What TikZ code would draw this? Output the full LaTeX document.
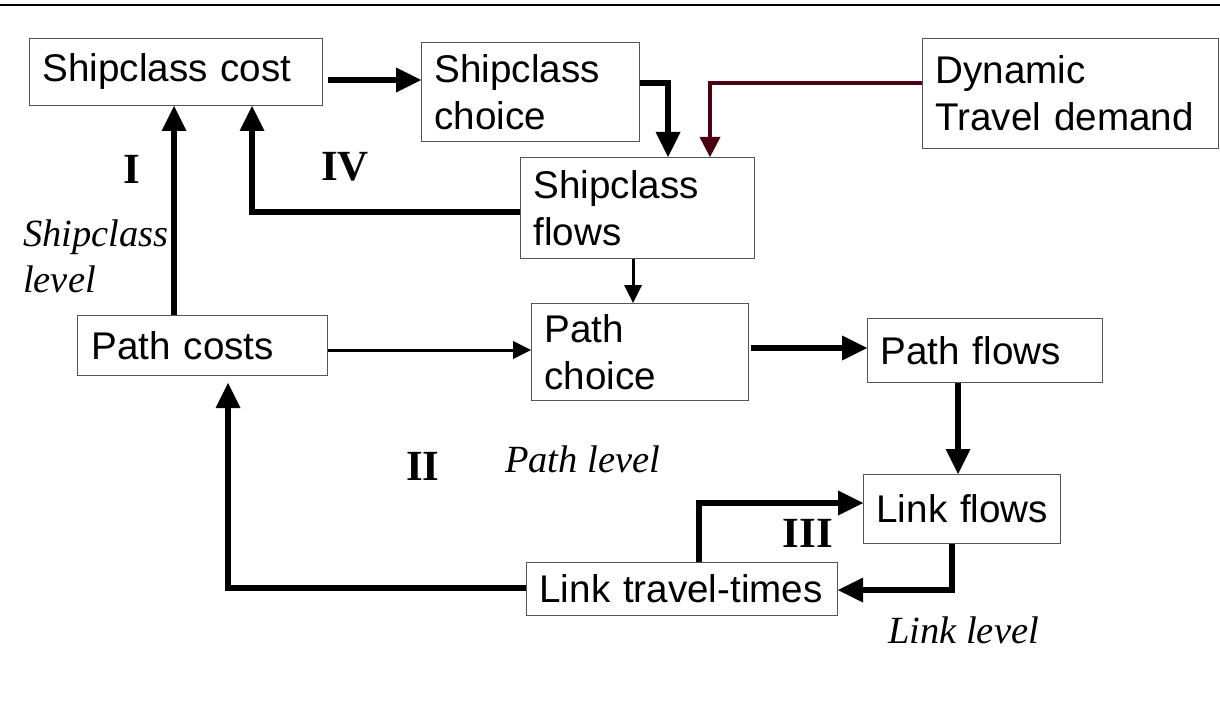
\documentclass[tikz,border=0pt]{standalone}
\usepackage{fontspec}
\setmainfont{Liberation Serif}
\setsansfont{Liberation Sans}
\usepackage{xcolor}
\usepackage{tikz}
\usetikzlibrary{arrows.meta,calc}
\definecolor{demandred}{RGB}{74,0,16}
\definecolor{boxgray}{RGB}{85,85,85}
\newcommand{\blockfont}{\fontsize{38.6pt}{47pt}\selectfont\sffamily}
\newcommand{\levelfont}{\fontsize{38.5pt}{46pt}\selectfont\itshape}
\newcommand{\loopfont}{\fontsize{43pt}{50pt}\selectfont\bfseries}
\tikzset{
  block/.style={rectangle, draw=boxgray, line width=1pt, anchor=north west, align=left, inner xsep=13pt, inner ysep=0pt, font=\blockfont},
  thickarrow/.style={-{Triangle[length=25pt, width=25pt, line width=0pt]}, line width=6.5pt},
  thinarrow/.style={-{Triangle[length=18pt, width=18pt, line width=0pt]}, line width=3pt},
  demandarrow/.style={-{Triangle[length=20pt, width=21pt, line width=0pt]}, line width=4pt, draw=demandred},
  levellabel/.style={inner sep=0pt, font=\levelfont, align=left},
  looplabel/.style={inner sep=0pt, font=\loopfont, anchor=base},
}

\begin{document}
\begin{tikzpicture}[x=1pt, y=-1pt]
  \useasboundingbox (0,0) rectangle (1220,706);
  \draw[line width=2.8pt] (0,5) -- (1220,5);

  % Shipclass level
  \node[block, text width=267pt, minimum height=67pt] (sccost) at (29,38) {Shipclass~cost};
  \node[block, text width=192pt, minimum height=99pt] (scchoice) at (421,42) {Shipclass\\choice};
  \node[block, text width=270pt, minimum height=110pt] (demand) at (922,38) {Dynamic\\Travel~demand};
  \node[block, text width=208pt, minimum height=101pt] (scflows) at (520,157) {Shipclass\\flows};

  % Path level
  \node[block, text width=222pt, minimum height=60pt, inner xsep=14pt] (pcosts) at (77,315) {Path~costs};
  \node[block, text width=191pt, minimum height=97pt] (pchoice) at (531,303) {Path\\choice};
  \node[block, text width=209pt, minimum height=64pt] (pflows) at (867,318) {Path~flows};

  % Link level
  \node[block, text width=171pt, minimum height=69pt] (lflows) at (863,474) {Link~flows};
  \node[block, text width=285pt, minimum height=53pt] (ltt) at (526,562) {Link~travel-times};

  % connectors
  \draw[thickarrow, shorten <=5pt] (sccost.east |- 0,80) -- (scchoice.west |- 0,80);
  \draw[thickarrow] (scchoice.east |- 0,83) -| (scflows.north -| 668,0);
  \draw[demandarrow] (demand.west |- 0,83) -| (scflows.north -| 710,0);
  \draw[thickarrow] (pcosts.north -| 174,0) -- (sccost.south -| 174,0);
  \draw[thickarrow] (scflows.west |- 0,212) -| (sccost.south -| 252,0);
  \draw[thinarrow] (scflows.south -| 633,0) -- (pchoice.north -| 633,0);
  \draw[thinarrow] (pcosts.east |- 0,350) -- (pchoice.west |- 0,350);
  \draw[thickarrow, shorten <=2pt] (pchoice.east |- 0,348) -- (pflows.west |- 0,348);
  \draw[thickarrow] (pflows.south -| 958,0) -- (lflows.north -| 958,0);
  \draw[thickarrow] (lflows.south -| 952,0) |- (ltt.east |- 0,590);
  \draw[thickarrow] (ltt.north -| 699,0) |- (lflows.west |- 0,503);
  \draw[thickarrow, shorten >=7pt] (ltt.west |- 0,588) -| (pcosts.south -| 228,0);

  % loop numbers and level labels
  \node[looplabel] (loopI) at (132,183) {I};
  \node[looplabel] (loopIV) at (345,180) {IV};
  \node[looplabel] (loopII) at (423,480) {II};
  \node[looplabel] (loopIII) at (808,547) {III};
  \node[levellabel, anchor=north west] (sclevel) at (23,220) {Shipclass\\level};
  \node[levellabel, anchor=base west] (plevel) at (505,472) {Path level};
  \node[levellabel, anchor=base west] (llevel) at (888,643) {Link level};
\end{tikzpicture}
\end{document}
